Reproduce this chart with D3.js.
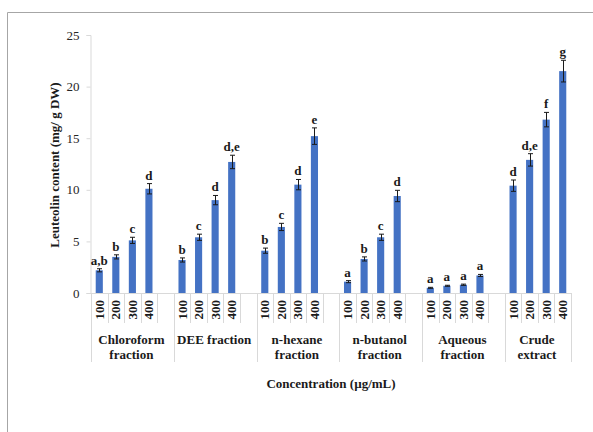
<!DOCTYPE html>
<html>
<head>
<meta charset="utf-8">
<script src="https://cdn.jsdelivr.net/npm/d3@7"></script>
<style>
  html, body { margin: 0; padding: 0; background: #fff; }
  svg { display: block; }
  text { font-family: "Liberation Serif", "Times New Roman", serif; }
</style>
</head>
<body>
<svg id="chart" width="593" height="432"></svg>
<script>
// Leuteolin content by fraction and concentration
const groups = ["Chloroform fraction", "DEE fraction", "n-hexane fraction", "n-butanol fraction", "Aqueous fraction", "Crude extract"];
const groupLines = [["Chloroform", "fraction"], ["DEE fraction"], ["n-hexane", "fraction"], ["n-butanol", "fraction"], ["Aqueous", "fraction"], ["Crude", "extract"]];
const concentrations = ["100", "200", "300", "400"];

const chloroform = [2.2, 3.5, 5.1, 10.1];
const dee        = [3.2, 5.4, 9.0, 12.7];
const hexane     = [4.1, 6.4, 10.5, 15.2];
const butanol    = [1.1, 3.3, 5.4, 9.4];
const aqueous    = [0.5, 0.7, 0.8, 1.7];
const crude      = [10.4, 12.9, 16.8, 21.5];

const chloroformErr = [0.15, 0.2, 0.3, 0.5];
const deeErr        = [0.2, 0.3, 0.45, 0.65];
const hexaneErr     = [0.25, 0.35, 0.5, 0.8];
const butanolErr    = [0.1, 0.2, 0.3, 0.55];
const aqueousErr    = [0.05, 0.05, 0.06, 0.1];
const crudeErr      = [0.55, 0.6, 0.7, 1.05];

const chloroformSig = ["a,b", "b", "c", "d"];
const deeSig        = ["b", "c", "d", "d,e"];
const hexaneSig     = ["b", "c", "d", "e"];
const butanolSig    = ["a", "b", "c", "d"];
const aqueousSig    = ["a", "a", "a", "a"];
const crudeSig      = ["d", "d,e", "f", "g"];

const yTicks = [0, 5, 10, 15, 20, 25];

const seriesValues = [chloroform, dee, hexane, butanol, aqueous, crude];
const seriesErr = [chloroformErr, deeErr, hexaneErr, butanolErr, aqueousErr, crudeErr];
const seriesSig = [chloroformSig, deeSig, hexaneSig, butanolSig, aqueousSig, crudeSig];

// Build category slots: four concentrations per group, plus a blank spacer after every group but the last
const slots = [];
const bars = [];
groups.forEach((g, gi) => {
  concentrations.forEach((c, ci) => {
    const key = gi + "-" + c;
    slots.push(key);
    bars.push({ key, group: g, conc: c, value: seriesValues[gi][ci], err: seriesErr[gi][ci], sig: seriesSig[gi][ci] });
  });
  if (gi < groups.length - 1) slots.push(gi + "-blank");
});

const svg = d3.select("#chart");
const grey = "#d9d9d9";

// Outer frame
svg.append("line").attr("x1", 7.5).attr("x2", 593).attr("y1", 12.5).attr("y2", 12.5)
  .attr("stroke", "#a6a6a6").attr("stroke-width", 1);
svg.append("line").attr("x1", 7.5).attr("x2", 7.5).attr("y1", 12.5).attr("y2", 432)
  .attr("stroke", "#a6a6a6").attr("stroke-width", 1);

const x = d3.scaleBand().domain(slots).range([91, 571]).padding(0);
const y = d3.scaleLinear().domain([0, 25]).range([293, 35]);

// Y axis
const yAxis = svg.append("g").attr("transform", "translate(90.5,0)")
  .call(d3.axisLeft(y).tickValues(yTicks).tickSize(4).tickPadding(7).tickFormat(d3.format("d")));
yAxis.select(".domain").attr("stroke", grey);
yAxis.selectAll(".tick line").attr("stroke", grey);
yAxis.selectAll(".tick text").attr("font-size", 13).attr("fill", "#262626")
  .attr("font-family", "'Liberation Serif', serif");

// X axis baseline
svg.append("line").attr("x1", 90).attr("x2", 571).attr("y1", 293.5).attr("y2", 293.5)
  .attr("stroke", grey);

// Slot separators (short) and group separators (long)
const slotEdges = slots.map(s => x(s)).concat([x.range()[1]]);
const groupEdges = new Set();
groupEdges.add(x(slots[0]));
groups.forEach((g, gi) => {
  if (gi > 0) groupEdges.add(x(gi + "-100"));
});
groupEdges.add(x.range()[1]);
slotEdges.forEach(px => {
  const isGroup = [...groupEdges].some(e => Math.abs(e - px) < 0.01);
  svg.append("line")
    .attr("x1", Math.round(px) + 0.5).attr("x2", Math.round(px) + 0.5)
    .attr("y1", 293).attr("y2", isGroup ? 362 : 323)
    .attr("stroke", grey);
});

// Bars
const barW = x.bandwidth() * 0.43;
svg.append("g").selectAll("rect").data(bars).join("rect")
  .attr("x", d => x(d.key) + (x.bandwidth() - barW) / 2)
  .attr("y", d => y(d.value))
  .attr("width", barW)
  .attr("height", d => y(0) - y(d.value))
  .attr("fill", "#4472c4");

// Error bars
const eb = svg.append("g").attr("stroke", "#1a1a1a").attr("stroke-width", 1);
bars.forEach(d => {
  const cx = Math.round(x(d.key) + x.bandwidth() / 2) + 0.5;
  const top = y(d.value + d.err), bot = y(d.value - d.err);
  eb.append("line").attr("x1", cx).attr("x2", cx).attr("y1", top).attr("y2", bot);
  eb.append("line").attr("x1", cx - 2.5).attr("x2", cx + 2.5).attr("y1", top).attr("y2", top);
  eb.append("line").attr("x1", cx - 2.5).attr("x2", cx + 2.5).attr("y1", bot).attr("y2", bot);
});

// Significance letters
svg.append("g").selectAll("text").data(bars).join("text")
  .attr("x", d => x(d.key) + x.bandwidth() / 2)
  .attr("y", d => y(d.value + d.err) - 4)
  .attr("text-anchor", "middle")
  .attr("font-size", 13).attr("font-weight", "bold").attr("fill", "#1a1a1a")
  .text(d => d.sig);

// Concentration labels (rotated)
svg.append("g").selectAll("text").data(bars).join("text")
  .attr("transform", d => `translate(${x(d.key) + x.bandwidth() / 2 + 4.5},300) rotate(-90)`)
  .attr("text-anchor", "end")
  .attr("font-size", 13).attr("font-weight", "bold").attr("fill", "#1a1a1a")
  .text(d => d.conc);

// Group labels
groups.forEach((g, gi) => {
  const x0 = x(gi + "-100");
  const x1 = gi < groups.length - 1 ? x((gi + 1) + "-100") : x.range()[1];
  const cx = (x0 + x1) / 2 - 1;
  const t = svg.append("text").attr("text-anchor", "middle")
    .attr("font-size", 13).attr("font-weight", "bold").attr("fill", "#1a1a1a");
  groupLines[gi].forEach((line, li) => {
    t.append("tspan").attr("x", cx).attr("y", 344 + li * 15).text(line);
  });
});

// Axis titles
svg.append("text")
  .attr("transform", "translate(59,165) rotate(-90)")
  .attr("text-anchor", "middle")
  .attr("font-size", 13).attr("font-weight", "bold").attr("fill", "#1a1a1a")
  .text("Leuteolin content (mg/ g DW)");

svg.append("text")
  .attr("x", 331).attr("y", 388)
  .attr("text-anchor", "middle")
  .attr("font-size", 13).attr("font-weight", "bold").attr("fill", "#1a1a1a")
  .text("Concentration (µg/mL)");
</script>
</body>
</html>
